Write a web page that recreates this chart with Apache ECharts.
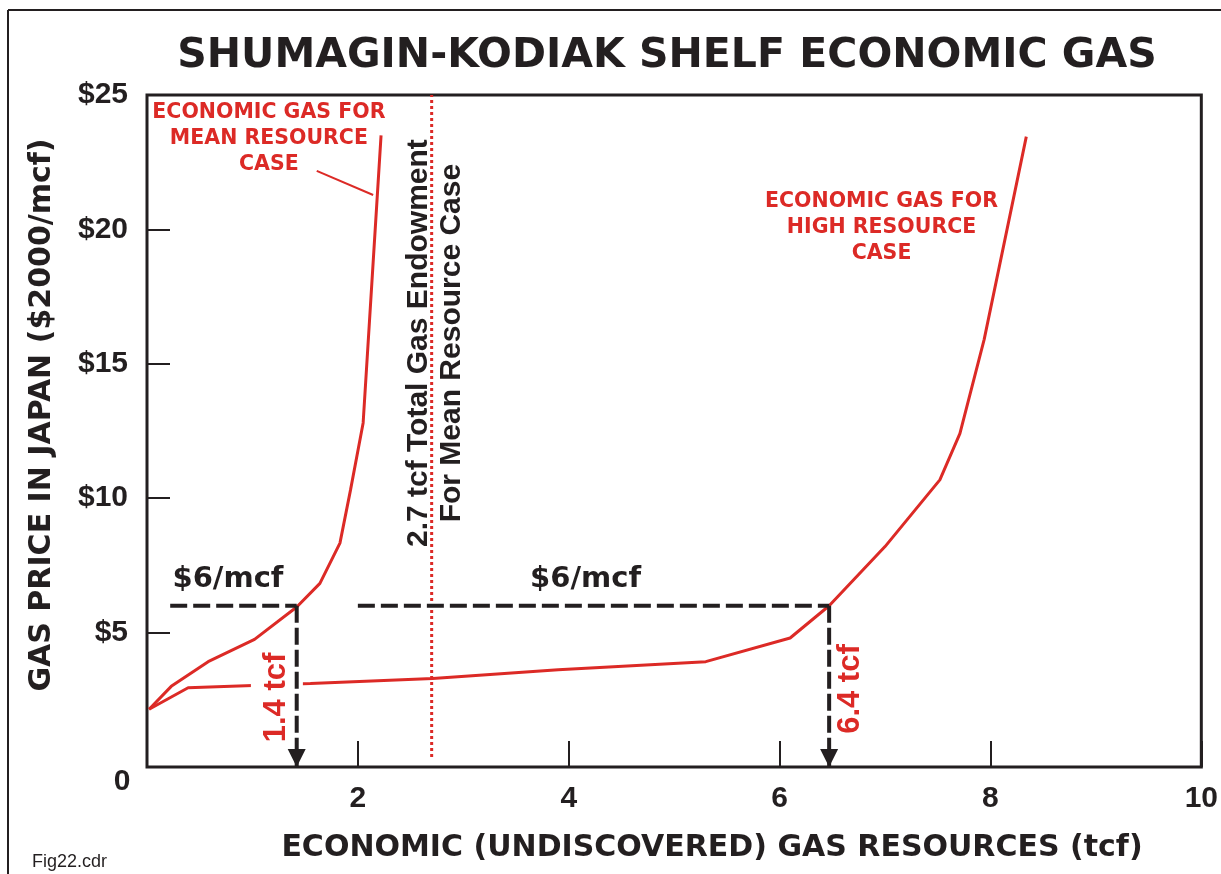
<!DOCTYPE html>
<html>
<head>
<meta charset="utf-8">
<title>Shumagin-Kodiak Shelf Economic Gas</title>
<script src="https://cdn.jsdelivr.net/npm/echarts@6/dist/echarts.min.js"></script>
<style>
    html, body { margin: 0; padding: 0; background: #fff; }
    #chart { width: 1221px; height: 874px; }
</style>
</head>
<body>
<div id="chart"></div>
<script>
(function () {

    "use strict";

    // =========================================================================
    // DATA
    // =========================================================================

    // gas resources (tcf) vs gas price ($2000/mcf)
    const meanCase = [[0.02, 2.15], [0.23, 3.0], [0.58, 3.92], [1.02, 4.75], [1.42, 5.95],
        [1.64, 6.83], [1.83, 8.33], [1.93, 10.3], [2.05, 12.8], [2.22, 23.5]];
    const highCase = [[0.02, 2.15], [0.39, 2.95], [1.55, 3.11], [2.71, 3.29], [3.9, 3.62],
        [5.3, 3.92], [6.1, 4.8], [6.47, 6.0], [7.0, 8.2], [7.52, 10.68], [7.71, 12.4],
        [7.94, 15.9], [8.34, 23.45]];

    const priceLevel = 6;          // $6/mcf
    const meanAtPrice = 1.42;      // 1.4 tcf
    const highAtPrice = 6.47;      // 6.4 tcf
    const endowment = 2.7;         // 2.7 tcf total endowment
    const priceStartMean = 0.22;
    const priceStartHigh = 2.0;

    const leaderLine = [[1.61, 22.18], [2.145, 21.28]];

    const RED = '#dc2a26';
    const INK = '#231f20';
    const WIDE = 'DejaVu Sans';
    const ARIAL = '"Liberation Sans", Arial, sans-serif';

    // =========================================================================
    // HELPERS
    // =========================================================================

    function dashedDrop(x) {
        return {
            type: 'line', z: 5, silent: true,
            lineStyle: { color: INK, width: 4, type: [17, 5] },
            showSymbol: true,
            data: [
                { value: [x, priceLevel], symbol: 'none' },
                { value: [x, 0], symbol: 'triangle', symbolSize: [18, 18], symbolRotate: 180,
                  symbolOffset: [0, '-50%'], itemStyle: { color: INK, opacity: 1 } }
            ]
        };
    }

    function note(x, y, text, style) {
        return { value: [x, y], label: Object.assign({ formatter: text, opacity: 1 }, style) };
    }

    const redNote = { color: RED, fontFamily: WIDE, fontWeight: 'bold', fontSize: 20.5, lineHeight: 26 };
    const priceNote = { color: INK, fontFamily: WIDE, fontWeight: 'bold', fontSize: 29 };
    const tcfNote = { color: RED, fontFamily: ARIAL, fontWeight: 'bold', fontSize: 31, rotate: 90 };

    // =========================================================================
    // CHART
    // =========================================================================

    const chart = echarts.init(document.getElementById('chart'), null, { renderer: 'canvas' });

    const option = {
        backgroundColor: '#fff',
        animation: false,
        grid: {
            left: 147, right: 19, top: 95, bottom: 107,
            show: true, borderColor: INK, borderWidth: 3, backgroundColor: 'transparent'
        },
        xAxis: {
            type: 'value', min: 0, max: 10, interval: 2,
            axisLine: { show: false },
            splitLine: { show: false },
            axisTick: { inside: true, length: 26, lineStyle: { color: INK, width: 2 } },
            axisLabel: {
                margin: 17, color: INK, fontFamily: ARIAL, fontWeight: 'bold', fontSize: 30,
                formatter: function (v) { return v === 0 ? '' : String(v); }
            }
        },
        yAxis: {
            type: 'value', min: 0, max: 25, interval: 5,
            axisLine: { show: false },
            splitLine: { show: false },
            axisTick: { inside: true, length: 23, lineStyle: { color: INK, width: 2 } },
            axisLabel: {
                margin: 19, color: INK, fontFamily: ARIAL, fontWeight: 'bold', fontSize: 30,
                formatter: function (v) { return v === 0 ? '' : '$' + v; }
            }
        },
        graphic: [
            // outer frame
            { type: 'line', shape: { x1: 8, y1: 10, x2: 1221, y2: 10 }, style: { stroke: INK, lineWidth: 2 } },
            { type: 'line', shape: { x1: 8, y1: 10, x2: 8, y2: 874 }, style: { stroke: INK, lineWidth: 2 } },
            {
                type: 'text', x: 667, y: 56,
                style: { text: 'SHUMAGIN-KODIAK SHELF ECONOMIC GAS', fill: INK, align: 'center', verticalAlign: 'middle',
                         font: 'bold 41px "DejaVu Sans"' }
            },
            {
                type: 'text', x: 712, y: 848,
                style: { text: 'ECONOMIC (UNDISCOVERED) GAS RESOURCES (tcf)', fill: INK, align: 'center',
                         verticalAlign: 'middle', font: 'bold 30px "DejaVu Sans"' }
            },
            {
                type: 'text', x: 42, y: 415, rotation: Math.PI / 2,
                style: { text: 'GAS PRICE IN JAPAN ($2000/mcf)', fill: INK, align: 'center',
                         verticalAlign: 'middle', font: 'bold 30px "DejaVu Sans"' }
            },
            {
                type: 'text', x: 122, y: 782,
                style: { text: '0', fill: INK, align: 'center', verticalAlign: 'middle',
                         font: 'bold 30px "Liberation Sans"' }
            },
            {
                type: 'text', x: 32, y: 862,
                style: { text: 'Fig22.cdr', fill: INK, align: 'left', verticalAlign: 'middle',
                         font: '18px "Liberation Sans"' }
            }
        ],
        series: [
            {
                name: 'Mean resource case', type: 'line', z: 2, showSymbol: false, silent: true,
                lineStyle: { color: RED, width: 3 }, data: meanCase
            },
            {
                name: 'High resource case', type: 'line', z: 2, showSymbol: false, silent: true,
                lineStyle: { color: RED, width: 3 }, data: highCase
            },
            {
                name: 'Leader', type: 'line', z: 2, showSymbol: false, silent: true,
                lineStyle: { color: RED, width: 2 }, data: leaderLine
            },
            {
                name: 'Endowment', type: 'line', z: 2, showSymbol: false, silent: true,
                lineStyle: { color: RED, width: 3, type: [3, 3] },
                data: [[endowment, 0.37], [endowment, 25]]
            },
            {
                name: 'Price mean', type: 'line', z: 5, showSymbol: false, silent: true,
                lineStyle: { color: INK, width: 4, type: [17, 6] },
                data: [[priceStartMean, priceLevel], [meanAtPrice, priceLevel]]
            },
            {
                name: 'Price high', type: 'line', z: 5, showSymbol: false, silent: true,
                lineStyle: { color: INK, width: 4, type: [17, 6] },
                data: [[priceStartHigh, priceLevel], [highAtPrice, priceLevel]]
            },
            dashedDrop(meanAtPrice),
            dashedDrop(highAtPrice),
            {
                // annotations anchored in data space
                name: 'Notes', type: 'scatter', z: 3, symbolSize: 0, silent: true,
                itemStyle: { opacity: 1 },
                label: { show: true, position: 'inside', align: 'center', verticalAlign: 'middle', opacity: 1 },
                data: [
                    note(1.156, 23.36, 'ECONOMIC GAS FOR\nMEAN RESOURCE\nCASE', redNote),
                    note(6.967, 20.05, 'ECONOMIC GAS FOR\nHIGH RESOURCE\nCASE', redNote),
                    note(0.768, 6.96, '$6/mcf', priceNote),
                    note(4.16, 6.96, '$6/mcf', priceNote),
                    note(1.232, 2.586, '1.4 tcf',
                        Object.assign({ backgroundColor: '#fff', padding: [4, 2, 17, 2] }, tcfNote)),
                    note(6.673, 2.9, '6.4 tcf', tcfNote),
                    note(2.73, 15.77, '2.7 tcf Total Gas Endowment\nFor Mean Resource Case',
                        { color: INK, fontFamily: ARIAL, fontWeight: 'bold', fontSize: 30, lineHeight: 33, rotate: 90 })
                ]
            }
        ]
    };

    chart.setOption(option);

})();
</script>
</body>
</html>
